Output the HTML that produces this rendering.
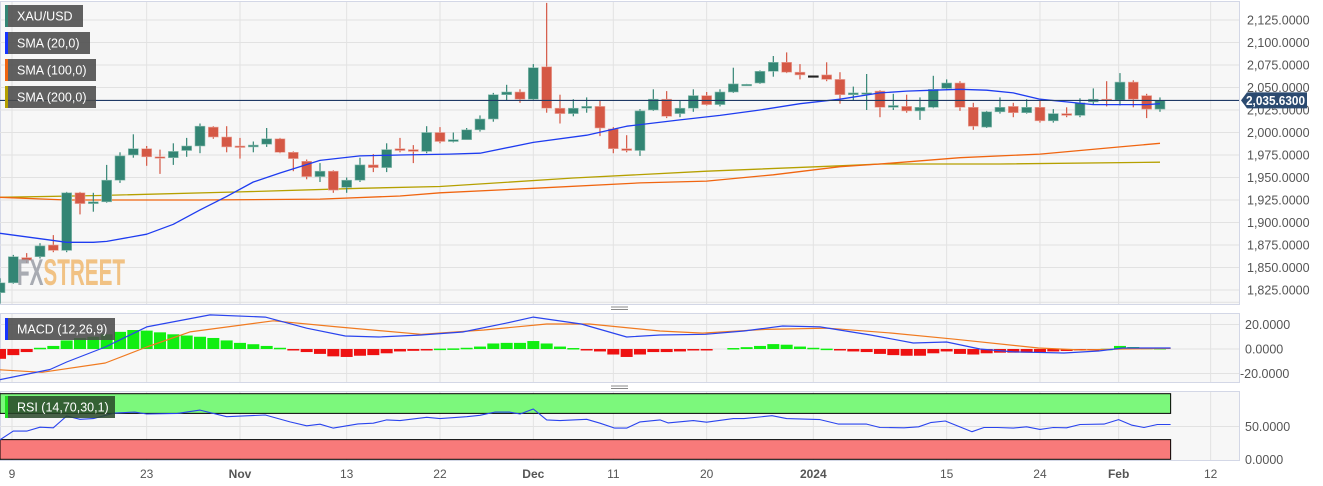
<!DOCTYPE html>
<html><head><meta charset="utf-8"><style>
html,body{margin:0;padding:0;background:#fff;}
svg{display:block;font-family:"Liberation Sans",sans-serif;}
</style></head><body>
<svg id="chart" width="1323" height="486" viewBox="0 0 1323 486" xmlns="http://www.w3.org/2000/svg">
<rect x="0" y="0" width="1323" height="486" fill="#ffffff"/>
<g id="panels"></g><g id="grid"></g><g id="marks"></g><g id="axes"></g><g id="overlay"></g>
</svg>
<script>
// ---- data ----
const opens = [1822,1833,1861,1862,1875,1869,1933,1921,1923,1947,1975,1982,1973,1972,1980,1985,2006,1995,1985,1984,1987,1993,1978,1968,1951,1957,1939,1947,1964,1961,1982,1981,1979,2000,1990,1992,2003,2015,2042,2045,2037,2073,2027,2021,2027,2029,2004,1982,1980,2025,2037,2021,2027,2041,2031,2045,2053,2055,2068,2078,2067,2063,2064,2059,2042,2043,2046,2028,2029,2024,2028,2049,2055,2028,2006,2023,2029,2022,2028,2013,2021,2019,2034,2037,2036,2056,2041,2026];
const closes = [1833,1862,1858,1874,1869,1933,1921,1923,1947,1974,1982,1973,1972,1979,1985,2007,1995,1984,1984,1986,1993,1978,1971,1951,1957,1936,1947,1964,1961,1981,1980,1979,2000,1990,1992,2003,2015,2042,2045,2037,2072,2027,2021,2027,2029,2005,1982,1980,2024,2037,2018,2027,2041,2031,2045,2054,2053.5,2068,2078,2067,2064,2063,2059,2042,2044,2044,2028,2030,2024,2028,2048,2055,2028,2007,2023,2028,2022,2028,2013,2021,2019,2033,2037,2036,2056,2037,2026,2035.63];
const highs = [1838,1864,1866,1877,1886,1934,1934,1933,1964,1978,1998,1985,1981,1988,1994,2010,2007,2007,1994,1990,2005,1994,1979,1970,1966,1958,1950,1972,1976,1988,1994,1986,2007,2006,2000,2005,2019,2044,2053,2048,2076,2144,2042,2037,2039,2035,2006,1997,2026,2048,2046,2035,2048,2045,2048,2072,2054,2069,2085,2089,2076,2063,2078,2067,2051,2065,2047,2043,2042,2039,2063,2059,2057,2033,2024,2039,2033,2037,2036,2026,2028,2038,2049,2057,2066,2058,2043,2039];
const lows = [1810,1832,1855,1860,1867,1867,1909,1912,1922,1944,1972,1963,1954,1964,1973,1977,1993,1978,1971,1978,1984,1977,1957,1948,1945,1933,1933,1945,1956,1956,1978,1966,1977,1988,1989,1992,2001,2012,2036,2033,2035,2022,2010,2018,2022,1996,1977,1978,1974,2024,2016,2017,2023,2030,2029,2044,2052,2054,2062,2066,2059,2063,2057,2032,2036,2025,2017,2025,2022,2014,2027,2047,2024,2003,2005,2021,2017,2021,2011,2011,2017,2017,2031,2029,2030,2028,2016,2023];
const sma20Idx = [0,3,5,7,8,11,13,15,17,19,21,24,27,30,33.7,36,40,44,47,51,54,57,60,63,66,68,70,72,74,76,78,80,82,84,86,87];
const sma20Val = [1888,1882,1878,1878,1879,1887,1898,1914,1929,1945,1955,1969,1974,1975,1976,1977,1989,1997,2007,2014,2019,2025,2032,2037,2044,2046,2047,2048,2047,2044,2037,2034,2031,2031,2031,2032];
const sma100Idx = [0,5,15,24,30,33,40,48,53,58,63,66,72,78,84,87];
const sma100Val = [1928,1925,1925,1926,1929.5,1933,1938,1944,1946,1953,1962,1965,1972,1976,1984,1988];
const sma200Idx = [0,7.5,18,27,33,43,53,63,66,75,87];
const sma200Val = [1928,1930,1934,1938,1940,1949.5,1957,1963,1965,1965,1967];
const macdIdx = [0,3.75,5,7.9,11,15.75,19.9,23,25.9,28.4,31.6,34.7,37.9,40,43.6,47,49.5,52.9,55.8,58.7,61.5,65.3,68.5,71,73.5,76,79.8,82.4,84.2,87.8];
const macdVal = [-25,-16.7,-10.6,1.6,18,27.8,26,17,10.6,9.8,11.4,13.9,21,26,20.4,9.8,11.4,12,14.7,18.8,18,11.4,4.9,5.7,0,-2.4,-3.3,-1.6,0.8,0.8];
const signalIdx = [0,3.15,7.9,11,14.25,20.5,25.3,31.6,36.3,41,44.2,49.5,52.7,57.4,62.1,66.9,71.6,77.9,81.1,84.2,87.8];
const signalVal = [-17,-19,-11.4,1.6,14,23,18,12,15.5,20.4,20.4,14.7,13,16,17,13,8,0.8,-0.8,0,0.5];
const histVal = [-8,-5,-2.5,1,2.5,7,9,10,12,14,15.5,15,13.6,12,11,10,9,7,5,3.9,2.5,1,-0.5,-2.5,-4,-6,-6.5,-5.5,-5,-3.5,-2,-1.5,-0.3,0.3,0.5,1,2,4.5,5,5,6.5,4.5,2,0.8,-0.2,-2,-4.5,-6.5,-4.5,-2.5,-2.5,-2,-1,-0.3,0,0.8,1.5,2.5,4,3.5,2,1,0.3,-1,-2,-2.5,-4,-5,-5.5,-5.5,-3.5,-2,-4,-4.5,-3.5,-3,-3,-3,-2.5,-2,-1.6,-1,-0.3,0.2,2.5,1.6,1,0.8];
const rsiIdx = [0,1,2,3,4,5,6,7,8.55,10.1,11,13.3,15,17,19.9,21.75,23,24,25,26.85,28,29,30,32,33,35,36,37.1,38.2,39,40,41,42,44,45,46.1,47,48,49.5,50.1,52,53,55,55.8,57.9,59,61.5,62.9,65,66,67.8,68.9,69.8,70.9,72.9,73.8,74.8,76,77,78,79,80,81,82.8,83.9,84.9,85.8,86.8,87.8];
const rsiVal = [29.7,43,43,49,48,66,61,62,70.5,72,69,70,75,65,67.5,57,51,53.5,47.6,54,55,60,59,64,62,65,67,72,72,69,76.7,60,59,61,55,47.6,47.6,57,60,55.5,59,56.6,62,62,66.4,62,60.5,53.6,53.6,48.5,48,49.5,56,58.4,42,48.5,48.5,47.6,49.6,45.6,48.5,48,53,53.6,60.5,52,48.5,53,53];
const priceTicks = [2125,2100,2075,2050,2025,2000,1975,1950,1925,1900,1875,1850,1825];
const macdTicks = [20,0,-20];
const rsiTicks = [50,0];
const dateLabels = ["9","23","Nov","13","22","Dec","11","20","2024","15","24","Feb","12"];
const dateIdx = [0.9,11,18,26,33,40,46,53,61,71,78,83.9,90.8];
const dateBold = [false,false,true,false,false,true,false,false,true,false,false,true,false];
const lastPrice = 2035.63;

// ---- scales ----
const STEP = 13.333;
const xC = i => i*STEP;
const yP = p => 20 + (2125-p)*0.9;
const yM = v => 349 - v*1.225;
const yR = v => 459.3 - v*0.656;
const PLOT_R = 1239;
const NS = "http://www.w3.org/2000/svg";
function mk(parent, tag, attrs){ const e=document.createElementNS(NS,tag); for(const k in attrs) e.setAttribute(k,attrs[k]); document.getElementById(parent).appendChild(e); return e; }

// panels
const panelDefs = [["price-panel",1,304],["macd-panel",313,382],["rsi-panel",391,460]];
panelDefs.forEach(p=>{
  const r = mk("panels","rect",{x:0.5,y:p[1]+0.5,width:PLOT_R,height:p[2]-p[1],fill:"#f7f7f7",stroke:"#d3d7e6","stroke-width":1});
  
  
});
[308,387].forEach(y=>{
  [0,2.5].forEach(d=>{ mk("panels","line",{x1:611,x2:628,y1:y+d-1,y2:y+d-1,stroke:"#888","stroke-width":1}); });
});

// grid
dateIdx.forEach(i=>{
  panelDefs.forEach(p=>{
    const l = mk("grid","line",{x1:xC(i),x2:xC(i),y1:p[1]+1,y2:p[2],stroke:"#e2e2e2","stroke-width":1});
    
    
  });
});
priceTicks.forEach(v=>{
  const l = mk("grid","line",{x1:0,x2:PLOT_R,y1:yP(v),y2:yP(v),stroke:"#e2e2e2","stroke-width":1});
  
  
});
mk("grid","line",{x1:0,x2:PLOT_R,y1:yP(1812.5)+1,y2:yP(1812.5)+1,stroke:"#e2e2e2"});
macdTicks.forEach(v=>{ mk("grid","line",{x1:0,x2:PLOT_R,y1:yM(v),y2:yM(v),stroke:"#e2e2e2"}); });
mk("grid","line",{x1:0,x2:PLOT_R,y1:yR(50),y2:yR(50),stroke:"#e2e2e2"});

// RSI bands
const lastX = xC(87.8);
const gb = mk("marks","rect",{x:0,y:yR(100),width:lastX,height:yR(70)-yR(100),fill:"#7cf87c",stroke:"#000","stroke-width":1});
 
const rb = mk("marks","rect",{x:0,y:yR(30),width:lastX,height:yR(0)-yR(30),fill:"#f87a7a",stroke:"#000","stroke-width":1});
 

function poly(idx, vals, yf, color, name, w){
  const pts = idx.map((i,k)=>xC(i).toFixed(1)+","+yf(vals[k]).toFixed(1)).join(" ");
  const pl = mk("marks","polyline",{points:pts,fill:"none",stroke:color,"stroke-width":w||1.3,"stroke-linejoin":"round"});
  
  
}
poly(sma200Idx, sma200Val, yP, "#b5a000", "sma-200-line");
poly(sma100Idx, sma100Val, yP, "#f06510", "sma-100-line");

// candles
opens.forEach((o,i)=>{
  const c = closes[i], x = xC(i);
  const up = c>o, flat = Math.abs(c-o)<0.3;
  const col = flat ? "#222" : (up ? "#338574" : "#d55845");
  const w = mk("marks","line",{x1:x,x2:x,y1:yP(highs[i]),y2:yP(lows[i]),stroke:col,"stroke-width":1.2});
  
  
  const top = yP(Math.max(o,c)), h = Math.max(1.5, yP(Math.min(o,c))-top);
  const b = mk("marks","rect",{x:x-5,y:top,width:10,height:h,fill:col,stroke:flat?col:(up?"#8fc0b3":"#eaa99e"),"stroke-width":0.6});
  
  
});
poly(sma20Idx, sma20Val, yP, "#1e3cf0", "sma-20-line");

const lp = mk("marks","line",{x1:0,x2:PLOT_R,y1:yP(lastPrice),y2:yP(lastPrice),stroke:"#1f3a66","stroke-width":1.2});
 

// MACD
histVal.forEach((v,i)=>{
  if (Math.abs(v)<0.05) return;
  const y0=yM(0), y1=yM(v);
  const r = mk("marks","rect",{x:xC(i)-6,y:Math.min(y0,y1),width:12,height:Math.max(1.5,Math.abs(y1-y0)),fill:v>0?"#11ee11":"#ee1111"});
  
  
});
poly(signalIdx, signalVal, yM, "#f07a20", "macd-signal-line", 1.2);
poly(macdIdx, macdVal, yM, "#2a44ee", "macd-line", 1.2);
poly(rsiIdx, rsiVal, yR, "#2a44ee", "rsi-line", 1.1);

function txt(parent,x,y,s,attrs,name){
  const t = mk(parent,"text",Object.assign({x:x,y:y},attrs||{}));
  t.textContent = s;
  
  
  return t;
}
const fmt = v => v.toLocaleString("en-US",{minimumFractionDigits:4,maximumFractionDigits:4});
priceTicks.forEach(v=>{ txt("axes",1247,yP(v)+4.5,fmt(v),{"font-size":12.5,fill:"#555"},"price-tick-label"); });
macdTicks.forEach(v=>{ txt("axes",v<0?1240:1245,yM(v)+4.5,fmt(v),{"font-size":12.5,fill:"#555"},"macd-tick-label"); });
rsiTicks.forEach(v=>{ txt("axes",1245,yR(v)+4.5,fmt(v),{"font-size":12.5,fill:"#555"},"rsi-tick-label"); });
dateLabels.forEach((s,k)=>{
  txt("axes",xC(dateIdx[k]),478,s,{"font-size":12,fill:"#555","text-anchor":"middle","font-weight":dateBold[k]?"bold":"normal"},"x-tick-label");
});

// price tag
const tagY = yP(lastPrice);
const tag = mk("overlay","path",{d:`M1241 ${tagY} L1247 ${tagY-8} L1307 ${tagY-8} L1307 ${tagY+8} L1247 ${tagY+8} Z`,fill:"#2b4a70"});
 
txt("overlay",1246,tagY+4.5,"2,035.6300",{"font-size":12.5,"font-weight":"bold",fill:"#fff",textLength:59,lengthAdjust:"spacingAndGlyphs"},"last-price-value");

// watermark
const wm = mk("overlay","text",{x:17,y:285,"font-size":37,"font-weight":"bold",textLength:108,lengthAdjust:"spacingAndGlyphs"});
 
wm.innerHTML = '<tspan fill="#9a9ea6" fill-opacity="0.85">FX</tspan><tspan fill="#f0b870" fill-opacity="0.85">STREET</tspan>';

// legends
const legends = [
  ["XAU/USD",5,5,78,"#338574","legend-xauusd","rgba(75,75,75,0.88)"],
  ["SMA (20,0)",5,32,85,"#1533ff","legend-sma-20","rgba(75,75,75,0.88)"],
  ["SMA (100,0)",5,59,91,"#f06510","legend-sma-100","rgba(75,75,75,0.88)"],
  ["SMA (200,0)",5,86,91,"#b5a000","legend-sma-200","rgba(75,75,75,0.88)"],
  ["MACD (12,26,9)",5,318,110,"#1533ff","legend-macd","rgba(75,75,75,0.88)"],
  ["RSI (14,70,30,1)",5,396,110,"#22dd22","legend-rsi","rgba(40,70,40,0.85)"]
];
legends.forEach(l=>{
  const g = mk("overlay","g",{});
  
  
  const bg = document.createElementNS(NS,"rect");
  bg.setAttribute("x",l[1]); bg.setAttribute("y",l[2]); bg.setAttribute("width",l[3]); bg.setAttribute("height",22); bg.setAttribute("fill",l[6]);
  g.appendChild(bg);
  const bar = document.createElementNS(NS,"rect");
  bar.setAttribute("x",l[1]); bar.setAttribute("y",l[2]); bar.setAttribute("width",3); bar.setAttribute("height",22); bar.setAttribute("fill",l[4]);
  g.appendChild(bar);
  const t = document.createElementNS(NS,"text");
  t.setAttribute("x",l[1]+12); t.setAttribute("y",l[2]+15.5); t.setAttribute("font-size",12.5); t.setAttribute("fill","#fff");
  t.textContent = l[0];
  g.appendChild(t);
});
</script>
</body></html>
